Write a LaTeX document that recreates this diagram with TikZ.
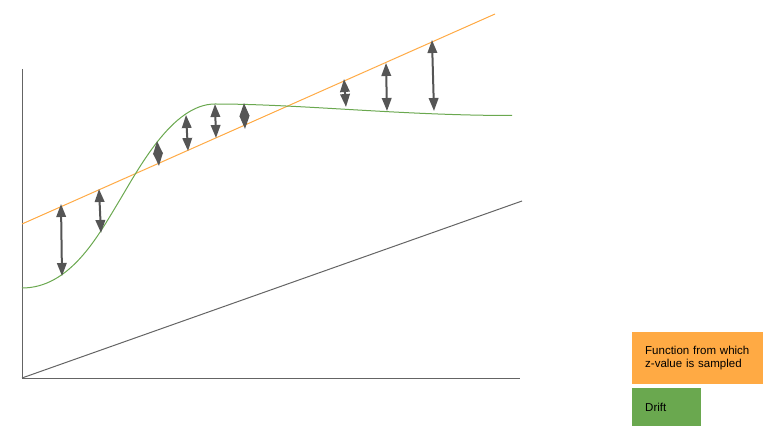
\documentclass[tikz,border=0pt]{standalone}
\usepackage{fontspec}
\setmainfont{Liberation Sans}
\usetikzlibrary{arrows.meta}

\definecolor{samplecol}{RGB}{255,170,68}
\definecolor{driftcol}{RGB}{106,168,79}
\definecolor{axiscol}{RGB}{100,100,100}
\definecolor{arrowcol}{RGB}{85,85,85}

\begin{document}
\begin{tikzpicture}[x=1pt, y=-1pt,
        axis/.style={axiscol, line width=1pt},
        zarrow/.style={arrowcol, line width=2pt,
            {Triangle[width=9.5pt,length=13pt]}-{Triangle[width=9.5pt,length=13pt]}},
        legend/.style={anchor=north west, inner xsep=13pt, inner ysep=0pt,
            align=left, font=\fontsize{11.5}{13}\selectfont}]
        \useasboundingbox (0, 0) rectangle (779, 438);

        % axes
        \coordinate (origin) at (22, 378);
        \coordinate (ytop) at (22, 69);
        \coordinate (xend) at (520, 378);
        \coordinate (diagend) at (522, 201);
        \draw [axis] (ytop) -- (origin) -- (xend);
        \draw [axis] (origin) -- (diagend);

        % sampled function and drift
        \draw [samplecol, line width=1pt] (22, 224) -- (495, 14);
        \draw [driftcol, line width=1pt] (22, 288)
            .. controls (70, 288) and (98, 236) .. (118, 203)
            .. controls (138, 170) and (172, 104) .. (215, 104)
            .. controls (300, 104) and (400, 115.5) .. (512, 115.5);

        \foreach \i/\ax/\ay/\bx/\by in {1/61/204/62/276, 2/99/189/101/233,
                3/157/141/159/166, 4/186/115/188/151, 5/215/104/216/138,
                6/244/103/245/129, 7/344/79/346/107, 8/386/63/387/111,
                9/432/40/434/111}{
            \coordinate (a\i) at (\ax, \ay);
            \coordinate (b\i) at (\bx, \by);
            \draw [zarrow] (a\i) -- (b\i);
        }

        % legend
        \node [legend, fill=samplecol, text width=105pt, minimum height=52pt]
            (keysample) at (632, 332) {Function from which\\z-value is sampled};
        \node [legend, fill=driftcol, text width=43pt, minimum height=38pt]
            (keydrift) at (632, 388) {Drift};

    \end{tikzpicture}
\end{document}
